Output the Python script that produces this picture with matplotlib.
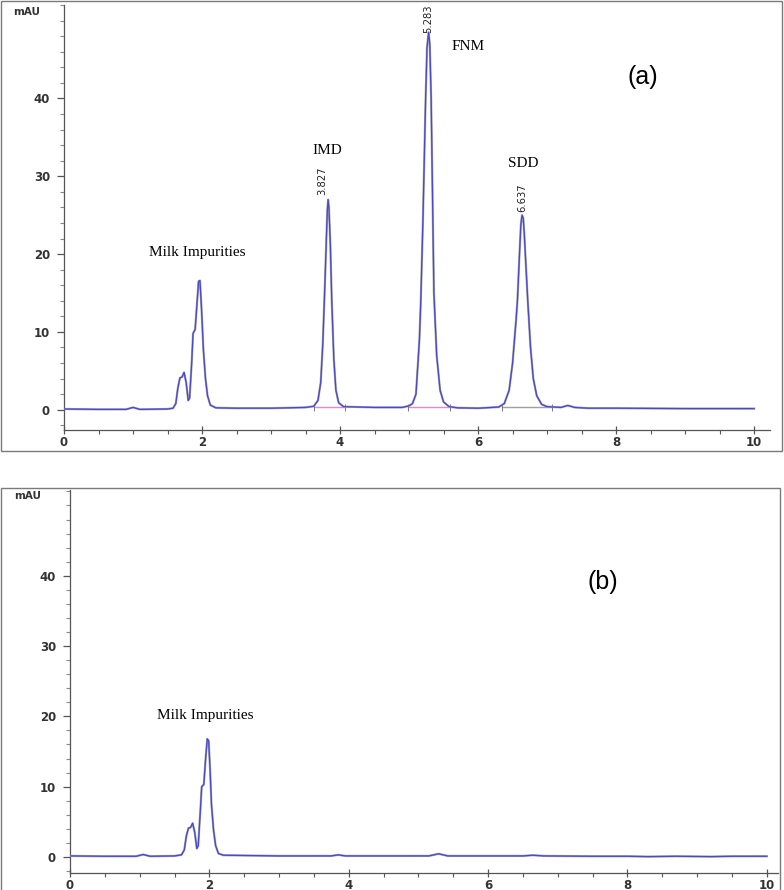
import matplotlib.pyplot as plt
from matplotlib.patches import Rectangle
from matplotlib.ticker import MultipleLocator

# chromatogram (a): spiked milk sample, time in min, absorbance in mAU
time_a = [0.0, 0.5, 0.9, 1.0, 1.1, 1.5, 1.58, 1.62, 1.65, 1.68, 1.71, 1.74, 1.77,
          1.80, 1.82, 1.85, 1.87, 1.90, 1.93, 1.95, 1.97, 1.99, 2.02, 2.05, 2.08,
          2.12, 2.2, 2.5, 3.0, 3.5, 3.62, 3.68, 3.72, 3.75, 3.78, 3.80, 3.815,
          3.827, 3.84, 3.86, 3.88, 3.91, 3.94, 3.98, 4.05, 4.5, 4.9, 5.0, 5.05,
          5.10, 5.15, 5.17, 5.20, 5.24, 5.26, 5.283, 5.30, 5.32, 5.36, 5.40, 5.45,
          5.50, 5.58, 5.7, 6.0, 6.3, 6.38, 6.45, 6.50, 6.55, 6.57, 6.60, 6.62,
          6.637, 6.655, 6.67, 6.72, 6.76, 6.80, 6.85, 6.92, 7.0, 7.2, 7.3, 7.4,
          7.6, 8.0, 9.0, 10.0]
abs_a = [0.1, 0.05, 0.05, 0.3, 0.05, 0.1, 0.2, 0.8, 2.8, 4.1, 4.2, 4.8, 3.5,
         1.2, 1.5, 6.0, 9.8, 10.3, 14.0, 16.5, 16.6, 13.5, 7.7, 4.0, 1.8,
         0.6, 0.25, 0.2, 0.2, 0.3, 0.45, 1.2, 3.5, 8.5, 16.0, 21.5, 25.5,
         27.0, 25.8, 21.0, 14.0, 6.5, 2.5, 0.9, 0.4, 0.3, 0.3, 0.5, 0.8,
         2.0, 9.0, 14.0, 24.0, 40.0, 46.5, 48.5, 47.0, 40.0, 15.0, 7.0, 2.5,
         1.0, 0.4, 0.25, 0.2, 0.35, 0.8, 2.5, 6.0, 11.5, 14.0, 20.0, 23.8,
         25.0, 24.6, 22.5, 14.0, 8.0, 4.0, 1.8, 0.7, 0.4, 0.3, 0.55, 0.3,
         0.2, 0.2, 0.15, 0.15]

# chromatogram (b): blank milk sample
time_b = [0.0, 0.5, 0.95, 1.05, 1.15, 1.5, 1.6, 1.64, 1.67, 1.70, 1.73, 1.76,
          1.79, 1.82, 1.84, 1.87, 1.89, 1.92, 1.95, 1.97, 1.99, 2.01, 2.03, 2.06,
          2.09, 2.13, 2.2, 3.0, 3.75, 3.85, 3.95, 4.5, 5.15, 5.29, 5.42, 6.0,
          6.5, 6.64, 6.8, 7.5, 8.0, 8.3, 8.7, 9.2, 9.5, 10.0]
abs_b = [0.15, 0.1, 0.1, 0.35, 0.1, 0.15, 0.3, 1.0, 3.0, 4.1, 4.2, 4.8,
         3.5, 1.2, 1.6, 6.5, 10.0, 10.3, 14.5, 16.8, 16.5, 12.5, 7.5, 3.8,
         1.6, 0.5, 0.25, 0.15, 0.15, 0.3, 0.15, 0.15, 0.15, 0.45, 0.15, 0.15,
         0.15, 0.25, 0.15, 0.1, 0.1, 0.05, 0.1, 0.05, 0.1, 0.1]

# integration baselines of the three analyte peaks
integ_start = [3.62, 4.99, 6.35]
integ_end = [4.07, 5.59, 7.07]
integ_colors = ['#e08ad0', '#e08ad0', '#a0a0a0']

compounds = ['IMD', 'FNM', 'SDD']
rt_labels = ['3.827', '5.283', '6.637']

line_col = '#4848cc'
shadow_col = '#a4a4b4'
tick_col = '#333333'
serif = 'Liberation Serif'

fig = plt.figure(figsize=(7.84, 8.90), dpi=100)

ax1 = fig.add_axes([64 / 784, 1 - 430 / 890, 706 / 784, 425 / 890])
ax2 = fig.add_axes([70 / 784, 1 - 873 / 890, 708 / 784, 383 / 890])

ax1.set_xlim(0, 10.23)
ax1.set_ylim(-2.6, 52.0)
ax2.set_xlim(0, 10.16)
ax2.set_ylim(-2.28, 52.2)

for ax in (ax1, ax2):
    for s in ('top', 'right'):
        ax.spines[s].set_visible(False)
    for s in ('left', 'bottom'):
        ax.spines[s].set_color('#555555')
        ax.spines[s].set_linewidth(0.9)
    ax.xaxis.set_major_locator(MultipleLocator(2))
    ax.xaxis.set_minor_locator(MultipleLocator(0.5))
    ax.set_yticks([0, 10, 20, 30, 40])
    ax.yaxis.set_minor_locator(MultipleLocator(2))
    ax.tick_params(axis='x', which='major', direction='inout', length=6,
                   width=0.9, color='#555555', pad=1.5)
    ax.tick_params(axis='x', which='minor', direction='out', length=3,
                   width=0.8, color='#555555')
    ax.tick_params(axis='y', which='major', direction='out', length=5,
                   width=0.9, color='#555555', pad=5)
    ax.tick_params(axis='y', which='minor', direction='out', length=3,
                   width=0.8, color='#888888')
    for lab in ax.get_xticklabels() + ax.get_yticklabels():
        lab.set_fontsize(8.5)
        lab.set_fontweight('bold')
        lab.set_color(tick_col)

# panel (a)
for s, e, c in zip(integ_start, integ_end, integ_colors):
    ax1.plot([s, e], [0.35, 0.35], color=c, lw=1.0, zorder=2)
    ax1.vlines([s, e], -0.2, 0.7, color='#777777', lw=0.7, zorder=2)
ax1.plot(time_a, abs_a, color=shadow_col, lw=1.6, zorder=3)
ax1.plot(time_a, abs_a, color=line_col, lw=0.9, zorder=4)

ax1.text(1.93, 20.2, 'Milk Impurities', family=serif, fontsize=11,
         ha='center', va='center')
name_pos = [(3.81, 33.3), (5.86, 46.7), (6.65, 31.7)]
rt_pos = [(3.74, 27.6), (5.28, 48.4), (6.64, 25.4)]
for name, (x, y) in zip(compounds, name_pos):
    ax1.text(x, y, name, family=serif, fontsize=11, ha='center', va='center')
for lab, (x, y) in zip(rt_labels, rt_pos):
    ax1.text(x, y, lab, family='DejaVu Sans', fontstretch='condensed',
             fontsize=8, rotation=90, ha='center', va='bottom', color='#222222')
ax1.text(8.38, 42.8, '(a)', family='Liberation Sans', fontsize=18,
         ha='center', va='center')

# panel (b)
ax2.plot(time_b, abs_b, color=shadow_col, lw=1.6, zorder=3)
ax2.plot(time_b, abs_b, color=line_col, lw=0.9, zorder=4)
ax2.text(1.94, 20.1, 'Milk Impurities', family=serif, fontsize=11,
         ha='center', va='center')
ax2.text(7.65, 39.1, '(b)', family='Liberation Sans', fontsize=18,
         ha='center', va='center')

# units and outer frames
fig.text(13 / 784, 1 - 12 / 890, 'mAU', fontsize=7.5, fontweight='bold',
         color=tick_col, va='center')
fig.text(14 / 784, 1 - 496 / 890, 'mAU', fontsize=7.5, fontweight='bold',
         color=tick_col, va='center')
fig.patches.append(Rectangle((1 / 784, 1 - 451 / 890), 781 / 784, 450 / 890,
                             transform=fig.transFigure, fill=False,
                             edgecolor='#7a7a7a', lw=1.0))
fig.patches.append(Rectangle((1 / 784, -0.01), 779 / 784, 1 - 488 / 890 + 0.01,
                             transform=fig.transFigure, fill=False,
                             edgecolor='#7a7a7a', lw=1.0))

fig.savefig('out.png', dpi=100)
